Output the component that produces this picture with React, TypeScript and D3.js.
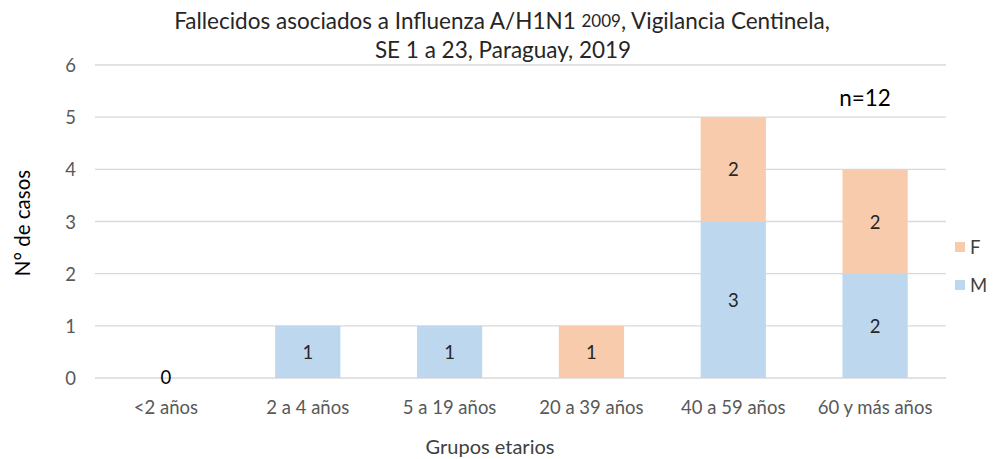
import React, { useEffect, useRef } from 'react';
import * as d3 from 'd3';

const categories = ['<2 años', '2 a 4 años', '5 a 19 años', '20 a 39 años', '40 a 59 años', '60 y más años'];
const maleValues = [0, 1, 1, 0, 3, 2];
const femaleValues = [0, 0, 0, 1, 2, 2];
const yTicks = [0, 1, 2, 3, 4, 5, 6];
const seriesNames = ['F', 'M'];

const App: React.FC = () => {
  const svgRef = useRef<SVGSVGElement>(null);

  useEffect(() => {
    if (!svgRef.current) return;
    const svg = d3.select(svgRef.current);
    svg.selectAll('*').remove();

    const width = 993;
    const height = 459;
    const font = 'Lato, "Open Sans", sans-serif';
    const left = 95, right = 946, top = 65, bottom = 378;

    const x = d3.scaleBand<string>().domain(categories).range([left, right]).paddingInner(0.54).paddingOuter(0.27);
    const y = d3.scaleLinear().domain([0, 6]).range([bottom, top]);

    svg.attr('width', width).attr('height', height);
    svg.append('rect').attr('width', width).attr('height', height).attr('fill', '#ffffff');

    // grid + y ticks
    yTicks.forEach(t => {
      svg.append('line')
        .attr('x1', left).attr('x2', right)
        .attr('y1', y(t)).attr('y2', y(t))
        .attr('stroke', '#d9d9d9').attr('stroke-width', 1.3);
      svg.append('text')
        .attr('x', 76).attr('y', y(t))
        .attr('text-anchor', 'end').attr('dominant-baseline', 'central')
        .attr('font-family', font).attr('font-size', 18.5).attr('fill', '#595959')
        .text(t);
    });

    const colors: Record<string, string> = { M: '#bdd7ee', F: '#f8cbad' };

    categories.forEach((c, i) => {
      const m = maleValues[i];
      const f = femaleValues[i];
      const bx = x(c)!;
      const bw = x.bandwidth();
      if (m > 0) {
        svg.append('rect').attr('x', bx).attr('width', bw)
          .attr('y', y(m)).attr('height', y(0) - y(m)).attr('fill', colors.M);
        svg.append('text').attr('x', bx + bw / 2).attr('y', (y(0) + y(m)) / 2)
          .attr('text-anchor', 'middle').attr('dominant-baseline', 'central')
          .attr('font-family', font).attr('font-size', 18.5).attr('fill', '#262626').text(m);
      }
      if (f > 0) {
        svg.append('rect').attr('x', bx).attr('width', bw)
          .attr('y', y(m + f)).attr('height', y(m) - y(m + f)).attr('fill', colors.F);
        svg.append('text').attr('x', bx + bw / 2).attr('y', (y(m) + y(m + f)) / 2)
          .attr('text-anchor', 'middle').attr('dominant-baseline', 'central')
          .attr('font-family', font).attr('font-size', 18.5).attr('fill', '#262626').text(f);
      }
      if (m + f === 0) {
        svg.append('text').attr('x', bx + bw / 2).attr('y', y(0) - 1)
          .attr('text-anchor', 'middle').attr('dominant-baseline', 'central')
          .attr('font-family', font).attr('font-size', 18.5).attr('fill', '#000000').text(0);
      }
      svg.append('text').attr('x', bx + bw / 2).attr('y', 407)
        .attr('text-anchor', 'middle').attr('dominant-baseline', 'central')
        .attr('font-family', font).attr('font-size', 18.5).attr('fill', '#595959').text(c);
    });

    // title
    const title = svg.append('text').attr('x', 502).attr('y', 20)
      .attr('text-anchor', 'middle').attr('dominant-baseline', 'central')
      .attr('font-family', font).attr('font-size', 22.5).attr('fill', '#262626');
    title.append('tspan').text('Fallecidos asociados a Influenza A/H1N1 ');
    title.append('tspan').attr('font-size', 17).text('2009');
    title.append('tspan').text(', Vigilancia Centinela,');
    svg.append('text').attr('x', 503).attr('y', 49)
      .attr('text-anchor', 'middle').attr('dominant-baseline', 'central')
      .attr('font-family', font).attr('font-size', 22.5).attr('fill', '#262626')
      .text('SE 1 a 23, Paraguay, 2019');

    // n label
    svg.append('text').attr('x', 865).attr('y', 97)
      .attr('text-anchor', 'middle').attr('dominant-baseline', 'central')
      .attr('font-family', font).attr('font-size', 22.5).attr('fill', '#000000').text('n=12');

    // axis titles
    svg.append('text').attr('transform', 'translate(22,223) rotate(-90)')
      .attr('text-anchor', 'middle').attr('dominant-baseline', 'central')
      .attr('font-family', font).attr('font-size', 20.5).attr('fill', '#000000').text('N° de casos');
    svg.append('text').attr('x', 490).attr('y', 446)
      .attr('text-anchor', 'middle').attr('dominant-baseline', 'central')
      .attr('font-family', font).attr('font-size', 20).attr('fill', '#404040').text('Grupos etarios');

    // legend
    seriesNames.forEach((s, i) => {
      const ly = 247 + i * 38;
      svg.append('rect').attr('x', 955).attr('y', ly - 5).attr('width', 10).attr('height', 10).attr('fill', colors[s]);
      svg.append('text').attr('x', 970).attr('y', ly)
        .attr('dominant-baseline', 'central')
        .attr('font-family', font).attr('font-size', 18.5).attr('fill', '#404040').text(s);
    });
  }, []);

  return <svg ref={svgRef} style={{ display: 'block', position: 'absolute', left: 0, top: 0 }} />;
};

export default App;
